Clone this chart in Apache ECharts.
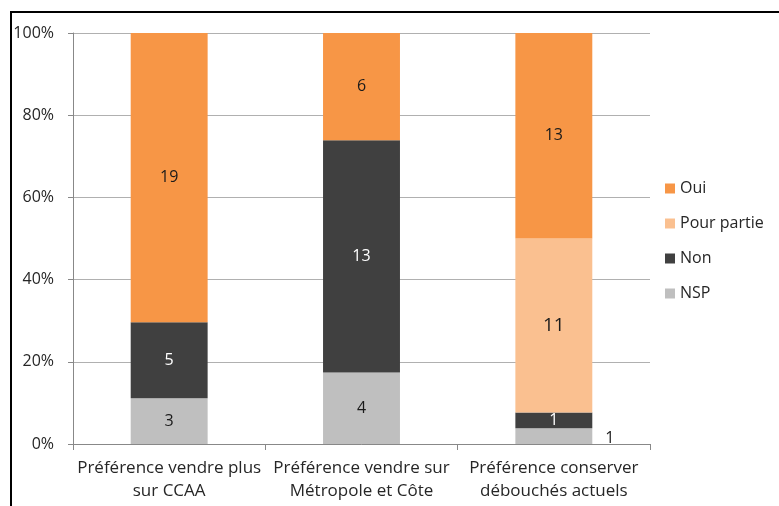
<!DOCTYPE html>
<html>
<head>
<meta charset="utf-8">
<style>
  html, body { margin: 0; padding: 0; background: #fff; }
  #chart { width: 779px; height: 506px; }
</style>
<script src="https://cdn.jsdelivr.net/npm/echarts@6/dist/echarts.min.js"></script>
</head>
<body>
<div id="chart"></div>
<script>
// Survey answers per preference (counts)
const categories = [
  'Préférence vendre plus\nsur CCAA',
  'Préférence vendre sur\nMétropole et Côte',
  'Préférence conserver\ndébouchés actuels'
];
const seriesNames = ['NSP', 'Non', 'Pour partie', 'Oui'];
const nsp = [3, 4, 1];
const non = [5, 13, 1];
const pourPartie = [0, 0, 11];
const oui = [19, 6, 13];
const yTicks = ['0%', '20%', '40%', '60%', '80%', '100%'];

const colors = {
  'Oui': '#F79646',
  'Pour partie': '#FAC090',
  'Non': '#404040',
  'NSP': '#BFBFBF'
};
const labelColors = {
  'Oui': '#1a1a1a',
  'Pour partie': '#1a1a1a',
  'Non': '#ffffff',
  'NSP': '#1a1a1a'
};

const counts = { 'NSP': nsp, 'Non': non, 'Pour partie': pourPartie, 'Oui': oui };
const totals = categories.map((_, i) => nsp[i] + non[i] + pourPartie[i] + oui[i]);

const fontFamily = '"Open Sans", "Noto Sans", sans-serif';

const series = seriesNames.map(name => ({
  name: name,
  type: 'bar',
  stack: 'total',
  barWidth: '40%',
  itemStyle: { color: colors[name] },
  label: {
    show: true,
    position: 'inside',
    color: labelColors[name],
    fontFamily: fontFamily,
    fontSize: name === 'Pour partie' ? 19 : 16,
    formatter: p => p.data.count
  },
  data: counts[name].map((c, i) => {
    const d = { value: c / totals[i] * 100, count: c };
    if (c === 0) d.label = { show: false };
    // small bottom segment: label sits beside the bar
    if (name === 'NSP' && i === 2) {
      d.label = { show: true, position: 'right', distance: 13, offset: [0, 2], color: '#1a1a1a' };
    }
    return d;
  })
}));

const chart = echarts.init(document.getElementById('chart'));
chart.setOption({
  animation: false,
  backgroundColor: '#ffffff',
  textStyle: { fontFamily: fontFamily },
  grid: { left: 73, right: 129, top: 33, bottom: 62 },
  legend: {
    orient: 'vertical',
    left: 660,
    top: 175,
    itemWidth: 10,
    itemHeight: 10,
    itemGap: 18,
    icon: 'rect',
    data: ['Oui', 'Pour partie', 'Non', 'NSP'],
    textStyle: { fontSize: 16, lineHeight: 17, color: '#262626', fontFamily: fontFamily }
  },
  xAxis: {
    type: 'category',
    data: categories,
    axisLine: { lineStyle: { color: '#888888', width: 1 } },
    axisTick: { show: true, length: 6, interval: 0, lineStyle: { color: '#888888' } },
    axisLabel: {
      interval: 0,
      fontSize: 17,
      color: '#262626',
      lineHeight: 23,
      margin: 13,
      fontFamily: fontFamily
    }
  },
  yAxis: {
    type: 'value',
    min: 0,
    max: 100,
    interval: 20,
    axisLine: { show: true, lineStyle: { color: '#888888' } },
    axisTick: { show: true, length: 5, lineStyle: { color: '#888888' } },
    splitLine: { show: true, lineStyle: { color: '#b0b0b0' } },
    axisLabel: {
      fontSize: 16,
      color: '#262626',
      margin: 19,
      fontFamily: fontFamily,
      formatter: v => yTicks[Math.round(v / 20)]
    }
  },
  graphic: [{
    type: 'rect',
    shape: { x: 11, y: 12, width: 820, height: 600 },
    style: { fill: 'none', stroke: '#000000', lineWidth: 2 },
    silent: true,
    z: 100
  }],
  series: series
});
</script>
</body>
</html>
